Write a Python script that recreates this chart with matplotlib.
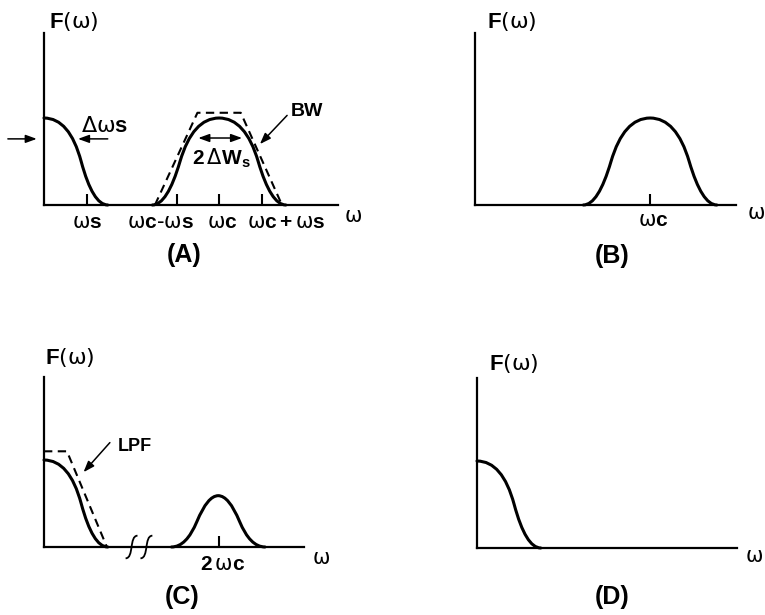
import matplotlib
matplotlib.use("Agg")
import matplotlib.pyplot as plt
from matplotlib.path import Path
from matplotlib.patches import PathPatch

# ---- spectra, in units of omega_s (x) and of the baseband peak (y) ----------------
OMEGA_S = 1.0
OMEGA_C = 4.12

# control polygons (smoothed as quadratic B-splines)
BASE_X = [0.0, 0.6, 1.15, 1.5]
BASE_Y = [1.0, 1.0, 0.0, 0.0]
PASS_X = [2.55, 2.9, 3.5, 4.74, 5.34, 5.69]
PASS_Y = [0.0, 0.0, 1.0, 1.0, 0.0, 0.0]
HARM_X = [3.0, 3.35, 3.85, 4.35, 4.85, 5.2]
HARM_Y = [0.0, 0.0, 0.59, 0.59, 0.0, 0.0]

# ideal filters (dashed)
BPF_X = [2.61, 3.61, 4.63, 5.6]
BPF_Y = [0.0, 1.06, 1.06, 0.0]
LPF_X = [0.0, 0.54, 1.48]
LPF_Y = [1.1, 1.1, 0.0]

TICKS_A = [OMEGA_S, OMEGA_C - OMEGA_S, OMEGA_C, OMEGA_C + OMEGA_S]
TICKLABELS_A = [r"$\mathrm{ω}\mathbf{s}$",
                r"$\mathrm{ω}\mathbf{c}\mathrm{‐ω}\mathbf{s}$",
                r"$\mathrm{ω}\mathbf{c}$",
                r"$\mathrm{ω}\mathbf{c}\,\mathbf{+}\,\mathrm{ω}\mathbf{s}$"]
TICKLABEL_X_A = [1.01, 2.73, 4.19, 5.69]   # labels sit off-centre in the sketch
BREAK_X = [1.92, 2.27]

W, H = 765, 615
UX, UY = 42.5, 87.0      # pixels per unit

plt.rcParams["font.family"] = "Liberation Sans"
plt.rcParams["mathtext.fontset"] = "custom"
plt.rcParams["mathtext.rm"] = "DejaVu Sans"
plt.rcParams["mathtext.bf"] = "Liberation Sans:bold"
plt.rcParams["mathtext.it"] = "DejaVu Sans:italic"

FW = r"$\mathbf{F}\mathrm{(ω)}$"
OM = r"$\mathrm{ω}$"


def bspline(xs, ys):
    pts = list(zip(xs, ys))
    verts, codes = [pts[0]], [Path.MOVETO]
    for i in range(1, len(pts) - 1):
        if i == len(pts) - 2:
            end = pts[i + 1]
        else:
            end = ((pts[i][0] + pts[i + 1][0]) / 2, (pts[i][1] + pts[i + 1][1]) / 2)
        verts += [pts[i], end]
        codes += [Path.CURVE3, Path.CURVE3]
    return Path(verts, codes)


def curve(ax, xs, ys):
    ax.add_patch(PathPatch(bspline(xs, ys), fill=False, lw=2.2, color="black",
                           capstyle="round", zorder=3, clip_on=False))


def dashed(ax, xs, ys):
    ax.plot(xs, ys, color="black", lw=1.5, ls=(0, (4, 2.6)), zorder=3, clip_on=False)


def arrow(ax, tail, head, both=False):
    style = "<|-|>" if both else "-|>"
    ax.annotate("", xy=head, xytext=tail, annotation_clip=False,
                arrowprops=dict(arrowstyle=style + ",head_length=0.55,head_width=0.2",
                                lw=1.1, color="black", mutation_scale=12,
                                shrinkA=0, shrinkB=0))


def panel(x0, yt, x1, yb):
    ax = fig.add_axes([x0 / W, 1 - yb / H, (x1 - x0) / W, (yb - yt) / H])
    ax.set_xlim(0, (x1 - x0) / UX)
    ax.set_ylim(0, (yb - yt) / UY)
    ax.spines[["top", "right"]].set_visible(False)
    ax.spines[["left", "bottom"]].set_linewidth(1.6)
    ax.set_yticks([])
    ax.set_xticks([])
    ax.tick_params(axis="x", direction="in", length=8, width=1.5, labelbottom=False)
    ax.patch.set_alpha(0)
    return ax


def label(ax, x, y, s, **kw):
    ax.text(x, y, s, clip_on=False, **kw)


fig = plt.figure(figsize=(W / 100, H / 100), dpi=100)

# (A) DSB spectrum with band-pass filter
ax = panel(44, 33, 338, 205)
curve(ax, BASE_X, BASE_Y)
curve(ax, PASS_X, PASS_Y)
dashed(ax, BPF_X, BPF_Y)
ax.set_xticks(TICKS_A)
for lx, s in zip(TICKLABEL_X_A, TICKLABELS_A):
    label(ax, lx, -0.205, s, fontsize=15, ha="center", va="center")
label(ax, 0.12, 2.11, FW, fontsize=16, va="center")
label(ax, 7.05, -0.13, OM, fontsize=15, va="center")
arrow(ax, (-0.85, 0.76), (-0.17, 0.76))
arrow(ax, (1.5, 0.76), (0.8, 0.76))
label(ax, 0.86, 0.9, r"$\mathrm{Δω}\mathbf{s}$", fontsize=16, va="center")
arrow(ax, (3.63, 0.77), (4.66, 0.77), both=True)
label(ax, 4.17, 0.54, r"$\mathbf{2}\,\mathrm{Δ}\mathbf{W}_\mathbf{s}$", fontsize=15,
      ha="center", va="center")
arrow(ax, (5.72, 1.03), (5.08, 0.7))
label(ax, 5.8, 1.07, "BW", fontsize=14, fontweight="bold", va="center")

# (B) band-pass output
ax = panel(475, 33, 736, 205)
curve(ax, PASS_X, PASS_Y)
ax.set_xticks([OMEGA_C])
label(ax, 4.2, -0.18, TICKLABELS_A[2], fontsize=15, ha="center", va="center")
label(ax, 0.28, 2.11, FW, fontsize=16, va="center")
label(ax, 6.4, -0.1, OM, fontsize=15, va="center")

# (C) after mixing, with low-pass filter
ax = panel(44, 377, 304, 547)
curve(ax, BASE_X, BASE_Y)
curve(ax, HARM_X, HARM_Y)
dashed(ax, LPF_X, LPF_Y)
for bx in BREAK_X:
    brk = Path([(bx, -0.13), (bx + 0.2, -0.13), (bx + 0.08, 0.13), (bx + 0.28, 0.13)],
               [Path.MOVETO, Path.CURVE4, Path.CURVE4, Path.CURVE4])
    ax.add_patch(PathPatch(brk, fill=False, lw=1.3, color="black", clip_on=False))
ax.set_xticks([OMEGA_C])
label(ax, 4.2, -0.2, r"$\mathbf{2}\,\mathrm{ω}\mathbf{c}$", fontsize=15,
      ha="center", va="center")
label(ax, 0.02, 2.18, FW, fontsize=16, va="center")
label(ax, 6.3, -0.13, OM, fontsize=15, va="center")
arrow(ax, (1.55, 1.2), (0.93, 0.86))
label(ax, 1.73, 1.15, "LPF", fontsize=13, fontweight="bold", va="center")

# (D) recovered baseband
ax = panel(477, 378, 737, 548)
curve(ax, BASE_X, BASE_Y)
label(ax, 0.28, 2.12, FW, fontsize=16, va="center")
label(ax, 6.3, -0.1, OM, fontsize=15, va="center")

for s, (px, py) in zip(["(A)", "(B)", "(C)", "(D)"],
                       [(184, 255), (612, 256), (182, 597), (612, 597)]):
    fig.text(px / W, 1 - py / H, s, fontsize=18, fontweight="bold",
             ha="center", va="center")

fig.savefig("out.png", dpi=100)
